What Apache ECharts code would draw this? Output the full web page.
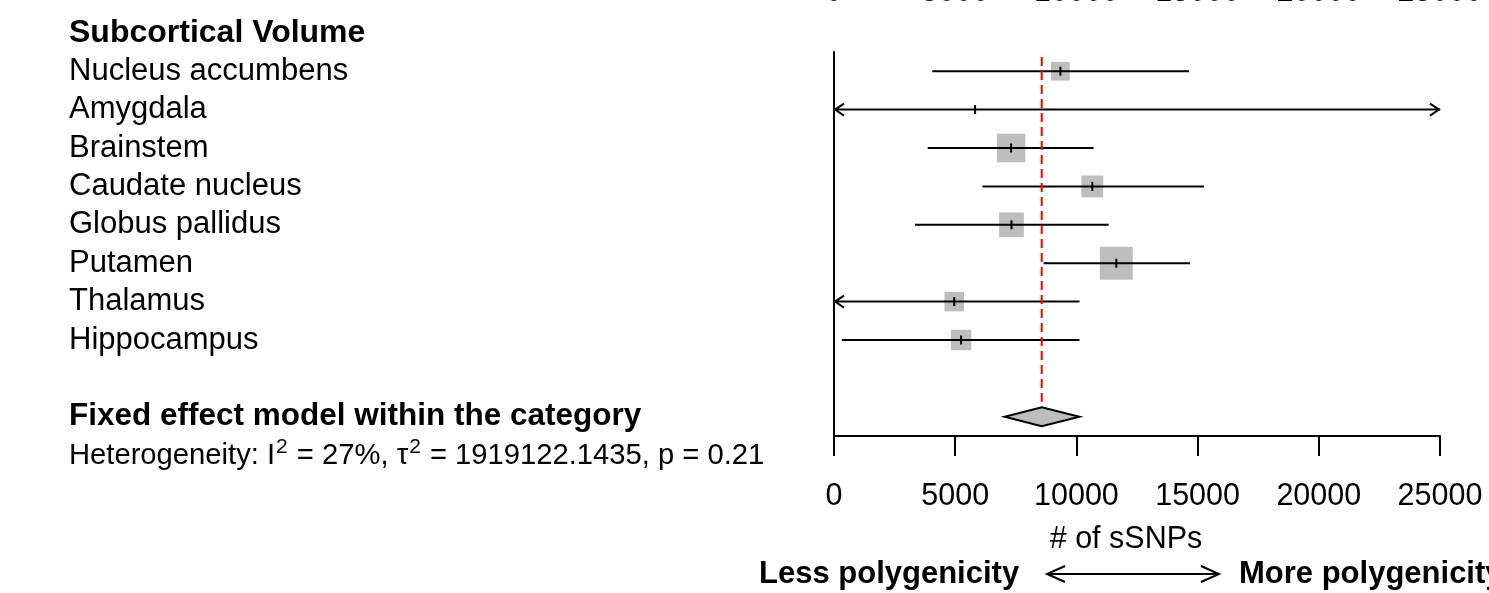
<!DOCTYPE html>
<html>
<head>
<meta charset="utf-8">
<script src="https://cdn.jsdelivr.net/npm/echarts@6/dist/echarts.min.js"></script>
<style>
  html, body { margin: 0; padding: 0; background: #ffffff; }
  #chart { width: 1489px; height: 593px; }
</style>
</head>
<body>
<div id="chart"></div>
<script>
// ---------------- data ----------------
const groupTitle = 'Subcortical Volume';
const studies = ['Nucleus accumbens', 'Amygdala', 'Brainstem', 'Caudate nucleus',
                 'Globus pallidus', 'Putamen', 'Thalamus', 'Hippocampus'];
const estimate = [9340, 5820, 7306, 10656, 7323, 11645, 4960, 5243];
const lower    = [4055, -9000, 3866, 6125, 3337, 8646, -400, 322];
const upper    = [14644, 36000, 10710, 15259, 11327, 14695, 10127, 10127];
const weight   = [8.5, 0.1, 19.7, 11.5, 14.8, 26.1, 9.2, 10.1];   // % weight (box area)
const pooledLabel = 'Fixed effect model within the category';
const pooledEstimate = [8570];
const pooledLower = [7041];
const pooledUpper = [10127];
const heterogeneityText = 'Heterogeneity: I{sup|2} = 27%, τ{sup|2} = 1919122.1435, p = 0.21';
const xTicks = [0, 5000, 10000, 15000, 20000, 25000];
const xName = '# of sSNPs';
const leftDirection = 'Less polygenicity';
const rightDirection = 'More polygenicity';

// ---------------- chart ----------------
const FONT = "'Liberation Sans', Arial, Helvetica, sans-serif";
const rowLabels = studies.concat(['', pooledLabel]);
const pooledRow = rowLabels.length - 1;
const xMin = xTicks[0], xMax = xTicks[xTicks.length - 1], xInt = xTicks[1] - xTicks[0];

const chart = echarts.init(document.getElementById('chart'), null, { renderer: 'canvas' });

function studyItem(params, api) {
  const idx = api.value(1);
  const est = api.value(0), lo = api.value(2), hi = api.value(3), w = api.value(4);
  const px = v => api.coord([v, idx])[0];
  const y = api.coord([xMin, idx])[1];
  const left = px(xMin), right = px(xMax);
  const x1 = Math.max(px(lo), left), x2 = Math.min(px(hi), right);
  const ex = px(est);
  const s = 6.44 * Math.sqrt(w);
  const children = [];
  children.push({ type: 'rect', shape: { x: ex - s / 2, y: y - s / 2, width: s, height: s },
                  style: { fill: '#BEBEBE' } });
  children.push({ type: 'line', shape: { x1: x1, y1: y, x2: x2, y2: y },
                  style: { stroke: '#000', lineWidth: 2 } });
  if (lo < xMin) {
    children.push({ type: 'polyline', shape: { points: [[left + 10, y - 6], [left + 1, y], [left + 10, y + 6]] },
                    style: { stroke: '#000', lineWidth: 2, fill: null } });
  }
  if (hi > xMax) {
    children.push({ type: 'polyline', shape: { points: [[right - 10, y - 6], [right - 1, y], [right - 10, y + 6]] },
                    style: { stroke: '#000', lineWidth: 2, fill: null } });
  }
  children.push({ type: 'line', shape: { x1: ex, y1: y - 4.5, x2: ex, y2: y + 4.5 },
                  style: { stroke: '#000', lineWidth: 2 } });
  return { type: 'group', children: children };
}

function diamondItem(params, api) {
  const idx = api.value(1);
  const px = v => api.coord([v, idx])[0];
  const y = api.coord([xMin, idx])[1];
  const ex = px(api.value(0)), lx = px(api.value(2)), rx = px(api.value(3));
  return { type: 'polygon',
           shape: { points: [[lx, y], [ex, y - 9.5], [rx, y], [ex, y + 9.5]] },
           style: { fill: '#BEBEBE', stroke: '#000', lineWidth: 2 } };
}

function refLineItem(params, api) {
  const x = api.coord([api.value(0), 0])[0];
  const top = params.coordSys.y + 5;
  const bottom = api.coord([api.value(0), pooledRow])[1] - 15;
  return { type: 'line', shape: { x1: x, y1: top, x2: x, y2: bottom },
           style: { stroke: '#FF0000', lineWidth: 2, lineDash: [9, 5] } };
}

const tickFormatter = v => String(v);

const option = {
  backgroundColor: '#ffffff',
  animation: false,
  textStyle: { fontFamily: FONT, color: '#000' },
  grid: { left: 834, right: 49, top: 52, bottom: 157, containLabel: false, outerBoundsMode: 'none' },
  xAxis: [
    {
      type: 'value', position: 'bottom', min: xMin, max: xMax, interval: xInt,
      axisLine: { show: true, onZero: false, lineStyle: { color: '#000', width: 2 } },
      axisTick: { show: true, length: 20, lineStyle: { color: '#000', width: 2 } },
      splitLine: { show: false },
      axisLabel: { show: true, margin: 45, fontSize: 30.5, color: '#000', fontFamily: FONT,
                   formatter: tickFormatter, showMinLabel: true, showMaxLabel: true, hideOverlap: false }
    },
    {
      type: 'value', position: 'top', min: xMin, max: xMax, interval: xInt,
      axisLine: { show: false }, axisTick: { show: false }, splitLine: { show: false },
      axisLabel: { show: true, margin: 44, fontSize: 30.5, color: '#000', fontFamily: FONT,
                   formatter: tickFormatter, showMinLabel: true, showMaxLabel: true, hideOverlap: false }
    }
  ],
  yAxis: {
    type: 'category', data: rowLabels, inverse: true,
    axisLine: { show: true, lineStyle: { color: '#000', width: 2 } },
    axisTick: { show: false }, splitLine: { show: false },
    axisLabel: {
      show: true, interval: 0, align: 'left', margin: 765, fontSize: 31, color: '#000', fontFamily: FONT,
      formatter: function (v) { return v === pooledLabel ? '{b|' + v + '}' : v; },
      rich: { b: { fontWeight: 'bold', fontSize: 31.5, color: '#000', fontFamily: FONT } }
    }
  },
  series: [
    {
      type: 'custom', name: 'studies', renderItem: studyItem, z: 3,
      encode: { x: [0, 2, 3], y: 1 },
      data: studies.map((s, i) => [estimate[i], i, lower[i], upper[i], weight[i]])
    },
    {
      type: 'custom', name: 'pooled', renderItem: diamondItem, z: 3,
      encode: { x: [0, 2, 3], y: 1 },
      data: pooledEstimate.map((e, i) => [e, pooledRow, pooledLower[i], pooledUpper[i]])
    },
    {
      type: 'custom', name: 'reference', renderItem: refLineItem, z: 5,
      encode: { x: 0, y: 1 },
      data: pooledEstimate.map(e => [e, 0])
    }
  ],
  graphic: [
    { type: 'text', x: 69, y: 33,
      style: { text: groupTitle, font: 'bold 32px ' + FONT, fill: '#000', textAlign: 'left', textVerticalAlign: 'middle' } },
    { type: 'text', x: 69, y: 456,
      style: { text: heterogeneityText, fontSize: 29.2, fontFamily: FONT, fill: '#000',
               textAlign: 'left', textVerticalAlign: 'middle',
               rich: { sup: { fontSize: 21, fontFamily: FONT, padding: [0, 1, 17, 1], fill: '#000' } } } },
    { type: 'text', x: 1126, y: 540,
      style: { text: xName, fontSize: 30.5, fontFamily: FONT, fill: '#000', textAlign: 'center', textVerticalAlign: 'middle' } },
    { type: 'text', x: 759, y: 574,
      style: { text: leftDirection, font: 'bold 31px ' + FONT, fill: '#000', textAlign: 'left', textVerticalAlign: 'middle' } },
    { type: 'text', x: 1239, y: 574,
      style: { text: rightDirection, font: 'bold 31px ' + FONT, fill: '#000', textAlign: 'left', textVerticalAlign: 'middle' } },
    { type: 'line', shape: { x1: 1047, y1: 574, x2: 1219, y2: 574 }, style: { stroke: '#000', lineWidth: 2 } },
    { type: 'polyline', shape: { points: [[1065, 566], [1047, 574], [1065, 582]] }, style: { stroke: '#000', lineWidth: 2, fill: null } },
    { type: 'polyline', shape: { points: [[1201, 566], [1219, 574], [1201, 582]] }, style: { stroke: '#000', lineWidth: 2, fill: null } }
  ]
};
chart.setOption(option);
</script>
</body>
</html>
